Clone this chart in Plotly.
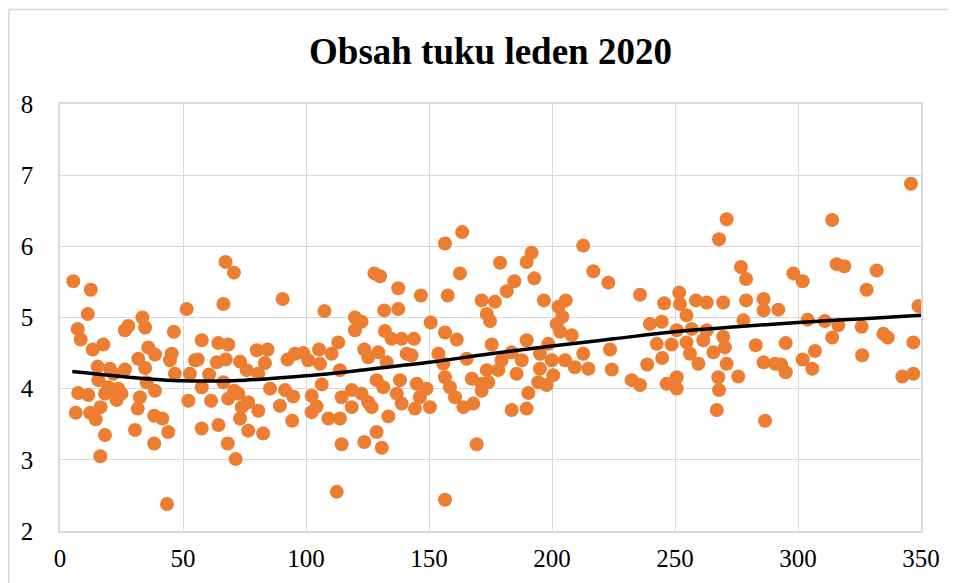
import plotly.graph_objects as go

# Scatter data
x_vals = [
    5.4, 12.5, 11.3, 7.2, 8.4, 13.3, 17.6, 15.3, 20.3, 15.6, 7.4, 11.5, 6.4, 12.2, 14.5, 16.5, 18.3, 16.4, 18.3, 21,
    23.7, 23, 26.4, 26.4, 27.8, 33.5, 34.6, 31.8, 34.6, 35.9, 38.6, 35.2, 38.6, 32.5, 31.6, 30.5, 38.3, 41.6, 44, 38.3,
    43.5, 46.3, 45.4, 44.7, 46.7, 51.5, 57.6, 54.9, 52.8, 52.2, 57.6, 57.6, 19.6, 25, 21.7,
    67.3, 70.7, 66.4, 90.5, 107.5, 56, 64.4, 68.4, 63.7, 67.4, 60.6, 66.4, 61.4, 64.4, 68.2, 71.4, 73.2, 75.9, 80,
    84.4, 83.3, 80.6, 85.4, 68.4, 72.5, 73.9, 76.5, 80.6, 73.2, 76.5, 82.6, 89.4, 91.5, 94.8, 94.4, 92.5, 95.5, 98.9,
    100.9, 105.3, 105.7, 106.4, 102.3, 104.3, 102.3, 109.1, 113.8, 113.1, 110.4, 112.5, 114.5, 114.5, 70.8,
    163.5, 156.5, 127.8, 130.1, 162.6, 137.5, 146.7, 157.6, 131.8, 137.5, 119.9, 122.6, 119.9, 150.7, 132.1, 134.8,
    138.9, 143.9, 156.5, 161.3, 123.7, 129.4, 125.3, 132.8, 140.9, 142.9, 153.8, 155.8, 165.3, 113.8, 128.7, 131.4,
    138.2, 145, 149, 156.5, 158.5, 167.4, 171.4, 118.6, 118.6, 122.6, 125.3, 126.7, 136.9, 138.9, 144.3, 146.3, 150.4,
    160.6, 164, 168, 133.5, 128.7, 123.7, 130.8, 169.4, 156.5,
    212.7, 191.7, 189.7, 178.9, 216.8, 192.8, 222.9, 184.7, 181.6, 196.7, 205.6, 171.4, 176.8, 173.5, 174.8, 202.6,
    204.2, 201.9, 203.3, 208, 175.5, 189.7, 198.5, 212.7, 223.6, 224.3, 214.8, 209.3, 205.3, 199.9, 195.1, 187.7,
    183.6, 179.5, 178.2, 173.5, 171.4, 174.1, 185.6, 195.1, 200.5, 197.8, 194.4, 190.4, 189.7, 183.6,
    271, 267.9, 276.8, 278.9, 235.8, 245.6, 251.7, 252, 258.5, 262.9, 269.6, 278.9, 254.7, 239.8, 244.6, 250.7,
    256.8, 262.9, 277.8, 242.6, 248.6, 254.7, 261.5, 269.6, 270.3, 265.6, 256.1, 259.5, 244.8, 238.7, 271, 282.8,
    232.4, 235.8, 246.6, 250.7, 250.7, 267.6, 267.9, 275.7, 267, 286, 286, 286, 286.6,
    345.9, 313.9, 315.7, 318.8, 332, 298.1, 301.9, 327.9, 292, 349, 303.9, 310.9, 316.4, 325.9, 313.9, 334.7,
    336.5, 346.9, 295, 306.9, 301.9, 305.8, 290.7, 293.1, 295, 326.1, 342.4, 346.9,
]
y_vals = [
    5.51, 5.39, 5.05, 4.84, 4.69, 4.55, 4.62, 4.31, 4.28, 4.12, 3.94, 3.91, 3.66, 3.66, 3.57, 3.74, 3.35, 3.05, 3.93, 3.98,
    4.0, 3.84, 4.27, 4.82, 4.88, 5.0, 4.86, 4.42, 4.29, 4.58, 4.48, 4.09, 3.97, 3.88, 3.72, 3.42, 3.62, 3.58, 3.39, 3.23,
    2.38, 4.80, 4.49, 4.40, 4.21, 5.12, 4.68, 4.40, 4.21, 3.83, 3.44, 4.02, 4.02, 3.93, 4.21,
    5.78, 5.63, 5.19, 5.26, 5.09, 4.41, 4.64, 4.62, 4.37, 4.41, 4.20, 4.09, 3.83, 3.49, 3.23, 3.01, 4.38, 4.26, 4.54,
    4.55, 4.36, 4.21, 4.0, 3.86, 3.93, 3.74, 3.81, 3.69, 3.58, 3.41, 3.37, 3.76, 3.98, 3.89, 3.55, 4.41, 4.49, 4.5,
    4.40, 4.55, 4.35, 4.06, 3.90, 3.75, 3.67, 3.58, 3.58, 4.65, 4.49, 2.55, 3.22, 3.88, 3.97,
    6.20, 6.04, 5.62, 5.58, 5.62, 5.41, 5.31, 5.31, 5.1, 5.12, 5.0, 4.94, 4.82, 4.93, 4.81, 4.70,
    4.70, 4.70, 4.79, 4.69, 4.55, 4.51, 4.44, 4.37, 4.49, 4.47, 4.49, 4.35, 4.42, 4.26, 4.12, 4.02,
    4.12, 4.07, 4.0, 4.16, 4.02, 4.14, 3.97, 3.98, 3.74, 3.93, 3.81, 3.74, 3.93, 3.79, 3.72, 3.88, 3.74,
    3.88, 3.74, 3.79, 3.61, 3.39, 3.25, 3.17, 3.22, 2.44,
    6.01, 5.91, 5.78, 5.77, 5.65, 5.55, 5.49, 5.51, 5.37, 5.24, 5.24, 5.24, 5.22, 5.05, 4.95, 5.15,
    5.01, 4.91, 4.80, 4.75, 4.62, 4.68, 4.63, 4.49, 4.55, 4.27, 4.28, 4.30, 4.40, 4.40, 4.49, 4.40,
    4.51, 4.40, 4.26, 4.26, 4.07, 4.09, 4.21, 4.28, 4.19, 4.05, 4.09, 3.94, 3.72, 3.70,
    6.38, 6.10, 5.71, 5.54, 5.32, 5.20, 5.35, 5.19, 5.24, 5.21, 5.21, 5.24, 5.03, 4.91, 4.94, 4.82,
    4.84, 4.82, 4.96, 4.63, 4.62, 4.65, 4.68, 4.73, 4.58, 4.51, 4.49, 4.35, 4.43, 4.34, 4.35, 4.61,
    4.12, 4.05, 4.07, 4.16, 4.0, 4.16, 3.98, 4.17, 3.70, 4.37, 5.26, 5.10, 3.55,
    6.88, 6.37, 5.75, 5.72, 5.66, 5.62, 5.51, 5.39, 5.11, 5.16, 4.97, 4.95, 4.89, 4.87, 4.72, 4.77,
    4.72, 4.65, 4.64, 4.53, 4.41, 4.28, 4.35, 4.34, 4.23, 4.47, 4.17, 4.21,
]

# Trend line (polynomial trend)
trend_x = [5, 25, 50, 75, 100, 125, 150, 175, 200, 225, 250, 275, 300, 325, 350]
trend_y = [4.24, 4.17, 4.11, 4.12, 4.18, 4.27, 4.37, 4.49, 4.60, 4.70, 4.80, 4.87, 4.93, 4.98, 5.03]

title_text = "Obsah tuku leden 2020"
x_ticks = [0, 50, 100, 150, 200, 250, 300, 350]
y_ticks = [2, 3, 4, 5, 6, 7, 8]

FONT = "Liberation Serif, Times New Roman, serif"
GRID = "#D9D9D9"

# page body has an 8px default margin -> figure is 948x575, placed at (8, 8)
fig = go.Figure()
fig.add_trace(go.Scatter(
    x=x_vals, y=y_vals, mode="markers",
    marker=dict(color="#ED7D31", size=14, line=dict(width=0)),
    hoverinfo="x+y",
))
fig.add_trace(go.Scatter(
    x=trend_x, y=trend_y, mode="lines",
    line=dict(color="black", width=3.5, shape="spline"),
))

fig.update_layout(
    width=948, height=575,
    margin=dict(l=52, r=35, t=96, b=52, autoexpand=False),
    paper_bgcolor="white", plot_bgcolor="white",
    showlegend=False,
    font=dict(family=FONT, color="black"),
    title=dict(
        text="<b>" + title_text + "</b>",
        font=dict(family=FONT, size=37, color="black"),
        x=0.5, xref="paper", xanchor="center",
        y=1 - 43 / 575, yref="container", yanchor="middle",
    ),
    xaxis=dict(
        range=[0, 350], tickvals=x_ticks, ticktext=[str(v) for v in x_ticks],
        showgrid=True, gridcolor=GRID, gridwidth=1,
        showline=True, linecolor=GRID, linewidth=1.5, mirror=True,
        zeroline=False, ticks="", ticklabelstandoff=4,
        tickfont=dict(family=FONT, size=25, color="black"),
    ),
    yaxis=dict(
        range=[2, 8], tickvals=y_ticks, ticktext=[str(v) for v in y_ticks],
        showgrid=True, gridcolor=GRID, gridwidth=1,
        showline=True, linecolor=GRID, linewidth=1.5, mirror=True,
        zeroline=False, ticks="", ticklabelstandoff=20,
        tickfont=dict(family=FONT, size=25, color="black"),
    ),
    shapes=[dict(
        type="rect", xref="paper", yref="paper",
        x0=(8.75 - 60) / 861, x1=(970 - 60) / 861,
        y0=(531 - 600) / 427, y1=(531 - 9.5) / 427,
        line=dict(color=GRID, width=1.5), fillcolor="rgba(0,0,0,0)",
        layer="below",
    )],
)

fig.write_html("out.html")
